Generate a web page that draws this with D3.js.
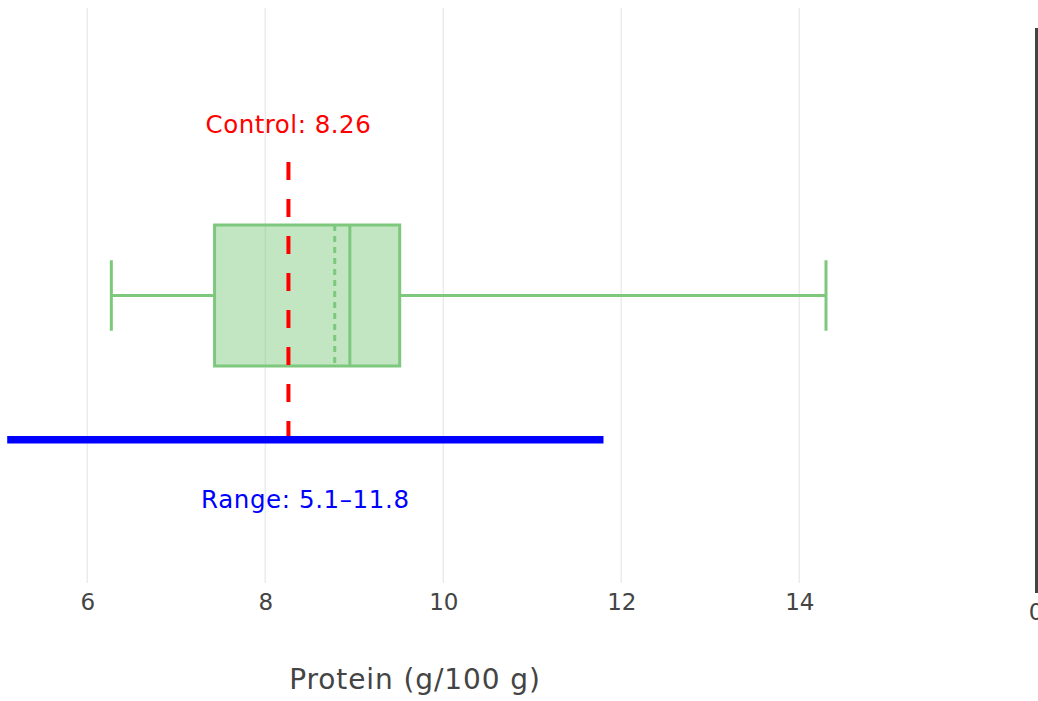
<!DOCTYPE html>
<html>
<head>
<meta charset="utf-8">
<script src="https://cdn.jsdelivr.net/npm/d3@7"></script>
<style>
  html, body { margin: 0; padding: 0; background: #fff; }
  svg { display: block; }
  text { font-family: "DejaVu Sans", Verdana, sans-serif; }
</style>
</head>
<body>
<svg id="chart" width="1038" height="701"></svg>
<script>
// ---- data ----
const categories = ["Protein"];
const whiskerLow = [6.27];
const q1 = [7.43];
const median = [8.95];
const mean = [8.78];
const q3 = [9.51];
const whiskerHigh = [14.30];
const controlValue = [8.26];
const rangeValues = [5.1, 11.8];
const xTicks = [6, 8, 10, 12, 14];
const xDomain = [5.019, 14.39];
const sideTicks = [0];
const axisTitle = "Protein (g/100 g)";

// ---- layout ----
const W = 1038, H = 701;
const plot = { left: 0, right: 834, top: 8, bottom: 583 };
const green = "rgb(126,200,126)";
const greenFill = "rgba(126,200,126,0.47)";

const svg = d3.select("#chart");

const x = d3.scaleLinear().domain(xDomain).range([plot.left, plot.right]);
const y = d3.scaleLinear().domain([0, 1]).range([plot.bottom, plot.top]);
const yBand = d3.scaleBand().domain(categories).range([y(0.5) - 70.5, y(0.5) + 70.5]);

// gridlines
svg.append("g").selectAll("line").data(xTicks).join("line")
  .attr("x1", d => x(d)).attr("x2", d => x(d))
  .attr("y1", plot.top).attr("y2", plot.bottom)
  .attr("stroke", "#ebebeb").attr("stroke-width", 1.5);

// x axis tick labels
const xAxis = d3.axisBottom(x).tickValues(xTicks).tickSize(0).tickPadding(0).tickFormat(d3.format("d"));
const gx = svg.append("g").attr("transform", `translate(0,${plot.bottom})`).call(xAxis);
gx.select(".domain").remove();
gx.selectAll("text")
  .attr("dy", null).attr("y", 27)
  .attr("font-size", 23).attr("fill", "#444")
  .style("font-family", '"DejaVu Sans", Verdana, sans-serif');

// axis title
svg.append("text")
  .attr("x", (plot.left + plot.right) / 2 - 2).attr("y", 689)
  .attr("text-anchor", "middle").attr("font-size", 28).attr("fill", "#444")
  .attr("letter-spacing", 0.9)
  .text(axisTitle);

// box plot
const bg = svg.append("g");
categories.forEach((c, i) => {
  const top = yBand(c), bot = yBand(c) + yBand.bandwidth(), mid = (top + bot) / 2;
  const capH = yBand.bandwidth() / 2;
  // whiskers
  bg.append("line").attr("x1", x(whiskerLow[i])).attr("x2", x(q1[i]))
    .attr("y1", mid).attr("y2", mid).attr("stroke", green).attr("stroke-width", 3);
  bg.append("line").attr("x1", x(q3[i])).attr("x2", x(whiskerHigh[i]))
    .attr("y1", mid).attr("y2", mid).attr("stroke", green).attr("stroke-width", 3);
  [whiskerLow[i], whiskerHigh[i]].forEach(v => {
    bg.append("line").attr("x1", x(v)).attr("x2", x(v))
      .attr("y1", mid - capH / 2).attr("y2", mid + capH / 2)
      .attr("stroke", green).attr("stroke-width", 3);
  });
  // box
  bg.append("rect").attr("x", x(q1[i])).attr("y", top)
    .attr("width", x(q3[i]) - x(q1[i])).attr("height", bot - top)
    .attr("fill", greenFill).attr("stroke", green).attr("stroke-width", 3);
  // median
  bg.append("line").attr("x1", x(median[i])).attr("x2", x(median[i]))
    .attr("y1", top).attr("y2", bot).attr("stroke", green).attr("stroke-width", 3);
  // mean (dotted)
  bg.append("line").attr("x1", x(mean[i])).attr("x2", x(mean[i]))
    .attr("y1", top).attr("y2", bot).attr("stroke", green).attr("stroke-width", 3)
    .attr("stroke-dasharray", "6,5");
});

// control dashed line
svg.append("line")
  .attr("x1", x(controlValue[0])).attr("x2", x(controlValue[0]))
  .attr("y1", y(0.732)).attr("y2", y(0.249))
  .attr("stroke", "#ff0000").attr("stroke-width", 4)
  .attr("stroke-dasharray", "18,19");
svg.append("text")
  .attr("x", x(controlValue[0])).attr("y", y(0.7825))
  .attr("text-anchor", "middle").attr("font-size", 24.5).attr("fill", "#ff0000")
  .attr("letter-spacing", 0.5)
  .text(`Control: ${controlValue[0].toFixed(2)}`);

// range line
svg.append("line")
  .attr("x1", x(rangeValues[0])).attr("x2", x(rangeValues[1]))
  .attr("y1", y(0.249)).attr("y2", y(0.249))
  .attr("stroke", "#0000ff").attr("stroke-width", 7.5);
svg.append("text")
  .attr("x", x((rangeValues[0] + rangeValues[1]) / 2)).attr("y", y(0.13))
  .attr("text-anchor", "middle").attr("font-size", 24.5).attr("fill", "#0000ff")
  .attr("letter-spacing", 0.6)
  .text(`Range: ${rangeValues[0]}\u2013${rangeValues[1]}`);

// second subplot (cut off at right edge, as in the reference)
const x2 = d3.scaleLinear().domain([0, 1]).range([1036, 1236]);
svg.append("line")
  .attr("x1", x2(0) + 0.5).attr("x2", x2(0) + 0.5)
  .attr("y1", 28).attr("y2", 593)
  .attr("stroke", "#444").attr("stroke-width", 3);
svg.append("g").selectAll("text").data(sideTicks).join("text")
  .attr("x", d => x2(d)).attr("y", 620)
  .attr("text-anchor", "middle").attr("font-size", 23).attr("fill", "#444")
  .text(d => d);
</script>
</body>
</html>
